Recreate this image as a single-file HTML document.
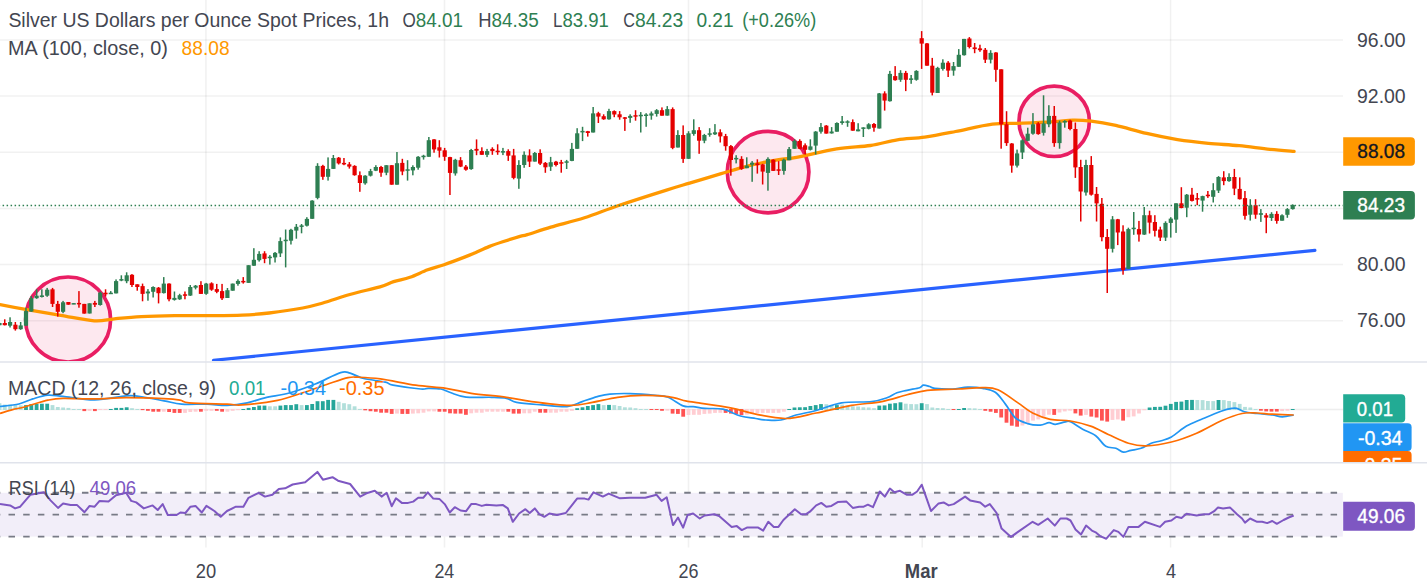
<!DOCTYPE html>
<html><head><meta charset="utf-8"><title>Silver chart</title>
<style>
html,body{margin:0;padding:0;background:#fff;width:1427px;height:587px;overflow:hidden}
svg{display:block}
text{font-family:"Liberation Sans",sans-serif}
</style></head><body>
<svg width="1427" height="587" viewBox="0 0 1427 587">
<defs>
<clipPath id="cmain"><rect x="0" y="0" width="1343" height="361"/></clipPath>
<clipPath id="cmacd"><rect x="0" y="362.5" width="1427" height="99.5"/></clipPath>
<clipPath id="crsi"><rect x="0" y="463.5" width="1343" height="84"/></clipPath>
</defs>
<rect width="1427" height="587" fill="#fff"/>

<line x1="205.9" y1="0" x2="205.9" y2="547.5" stroke="rgba(40,40,40,0.065)" stroke-width="1.5"/>
<line x1="444.5" y1="0" x2="444.5" y2="547.5" stroke="rgba(40,40,40,0.065)" stroke-width="1.5"/>
<line x1="688.5" y1="0" x2="688.5" y2="547.5" stroke="rgba(40,40,40,0.065)" stroke-width="1.5"/>
<line x1="922.2" y1="0" x2="922.2" y2="547.5" stroke="rgba(40,40,40,0.065)" stroke-width="1.5"/>
<line x1="1170.6" y1="0" x2="1170.6" y2="547.5" stroke="rgba(40,40,40,0.065)" stroke-width="1.5"/>
<line x1="0" y1="39.9" x2="1343" y2="39.9" stroke="rgba(40,40,40,0.065)" stroke-width="1.5"/>
<line x1="0" y1="96.1" x2="1343" y2="96.1" stroke="rgba(40,40,40,0.065)" stroke-width="1.5"/>
<line x1="0" y1="152.2" x2="1343" y2="152.2" stroke="rgba(40,40,40,0.065)" stroke-width="1.5"/>
<line x1="0" y1="208.4" x2="1343" y2="208.4" stroke="rgba(40,40,40,0.065)" stroke-width="1.5"/>
<line x1="0" y1="264.5" x2="1343" y2="264.5" stroke="rgba(40,40,40,0.065)" stroke-width="1.5"/>
<line x1="0" y1="320.7" x2="1343" y2="320.7" stroke="rgba(40,40,40,0.065)" stroke-width="1.5"/>
<line x1="0" y1="409.5" x2="1343" y2="409.5" stroke="rgba(40,40,40,0.08)" stroke-width="1.5"/>
<line x1="0" y1="514.6" x2="1343" y2="514.6" stroke="rgba(40,40,40,0.065)" stroke-width="1.5"/>
<line x1="0" y1="362.05" x2="1427" y2="362.05" stroke="#e0e3eb" stroke-width="1.6"/>
<line x1="0" y1="462.8" x2="1427" y2="462.8" stroke="#e0e3eb" stroke-width="1.6"/>
<g clip-path="url(#cmain)">
<circle cx="68.1" cy="319.5" r="42.5" fill="rgba(233,30,99,0.1)" stroke="#e91e63" stroke-width="3.7"/>
<circle cx="768.1" cy="172.1" r="40.8" fill="rgba(233,30,99,0.1)" stroke="#e91e63" stroke-width="3.7"/>
<circle cx="1054.2" cy="121.3" r="35.2" fill="rgba(233,30,99,0.1)" stroke="#e91e63" stroke-width="3.7"/>
<path d="M0 304.6 C4.5 305.5 16.8 307.9 26.9 309.7 C37 311.5 49.3 313.5 60.5 315.4 C71.7 317.2 85.2 320.2 94.2 320.8 C103.2 321.4 106.6 319.5 114.4 318.8 C122.2 318.1 131.2 317.2 141.3 316.7 C151.4 316.2 163.7 315.9 174.9 315.7 C186.1 315.5 197.3 315.8 208.5 315.7 C219.7 315.6 232.1 315.6 242.2 315.1 C252.3 314.7 259 314.2 269.1 313 C279.2 311.8 293.7 309.7 302.7 308 C311.7 306.3 315 305.2 322.9 303 C330.8 300.8 340.3 297.2 349.8 294.5 C359.3 291.8 372.7 288.9 380 286.8 C387.3 284.7 388.6 283.2 393.6 281.6 C398.6 280 404.3 279.3 410 277.3 C415.7 275.3 422 271.9 427.7 269.8 C433.4 267.7 438 266.8 444.1 264.7 C450.2 262.6 459.3 259.1 464.5 257.1 C469.7 255.1 471.3 254.4 475.4 252.7 C479.5 250.9 484.4 248.4 489 246.6 C493.6 244.8 497.5 243.5 502.7 241.8 C507.9 240.1 515.9 237.6 520 236.4 C524.1 235.2 522.2 236.1 527.3 234.6 C532.4 233.1 541.3 230 550.8 227.2 C560.3 224.4 573.2 221.4 584.5 217.8 C595.8 214.2 605 210.1 618.7 205.5 C632.4 200.9 654.7 193.8 666.5 190.1 C678.3 186.4 680.6 185.8 689.6 183.1 C698.6 180.4 710.8 176.7 720.4 173.9 C730 171.1 738.3 168.4 747.3 166.1 C756.3 163.8 766.3 161.8 774.5 160.3 C782.7 158.8 786 159.2 796.4 157.3 C806.8 155.4 824.4 150.9 836.7 148.9 C849 146.9 860.3 147 870.4 145.5 C880.5 144 888.2 141.2 897.3 139.8 C906.3 138.4 915 138.5 924.7 137.1 C934.4 135.7 944.2 133.7 955.5 131.5 C966.8 129.3 981.2 125.5 992.5 124.1 C1003.8 122.7 1013 123.6 1023.3 123.2 C1033.6 122.8 1046 122.2 1054.2 121.7 C1062.4 121.2 1066.5 120.2 1072.7 120.1 C1078.9 120 1084 120.2 1091.2 121.1 C1098.4 122 1106.5 123.4 1115.8 125.4 C1125 127.5 1136.4 131 1146.7 133.4 C1157 135.8 1167.2 137.9 1177.5 139.6 C1187.8 141.2 1198.1 142.3 1208.4 143.3 C1218.7 144.3 1228.9 144.7 1239.2 145.7 C1249.5 146.7 1260.8 148.5 1270 149.4 C1279.2 150.3 1290.1 151 1294.1 151.3" fill="none" stroke="#ff9800" stroke-width="3.3" stroke-linejoin="round" stroke-linecap="round"/>
<line x1="213.5" y1="360.3" x2="1314.9" y2="250.3" stroke="#2962ff" stroke-width="3.2" stroke-linecap="round"/>
<rect x="-1.2" y="322.7" width="1.5" height="2.7" fill="#2e7f52"/>
<rect x="-2.6" y="323" width="4.2" height="2.2" fill="#2e7f52"/>
<rect x="4" y="319.3" width="1.5" height="6.1" fill="#e50000"/>
<rect x="2.7" y="323" width="4.2" height="2.2" fill="#e50000"/>
<rect x="9.3" y="317.3" width="1.5" height="10.2" fill="#2e7f52"/>
<rect x="8" y="322" width="4.2" height="3.7" fill="#2e7f52"/>
<rect x="14.6" y="322" width="1.5" height="8.6" fill="#e50000"/>
<rect x="13.3" y="324.7" width="4.2" height="4.5" fill="#e50000"/>
<rect x="19.9" y="322" width="1.5" height="7.8" fill="#2e7f52"/>
<rect x="18.6" y="325.4" width="4.2" height="3.8" fill="#2e7f52"/>
<rect x="25.2" y="307.7" width="1.5" height="18" fill="#2e7f52"/>
<rect x="23.9" y="311.1" width="4.2" height="14.6" fill="#2e7f52"/>
<rect x="30.5" y="296.1" width="1.5" height="15.7" fill="#2e7f52"/>
<rect x="29.2" y="298.2" width="4.2" height="13.4" fill="#2e7f52"/>
<rect x="35.9" y="289.3" width="1.5" height="9.5" fill="#2e7f52"/>
<rect x="34.5" y="295.7" width="4.2" height="2.5" fill="#2e7f52"/>
<rect x="41.1" y="289.3" width="1.5" height="8.2" fill="#2e7f52"/>
<rect x="39.8" y="295.4" width="4.2" height="1.6" fill="#2e7f52"/>
<rect x="46.4" y="287.9" width="1.5" height="8.9" fill="#2e7f52"/>
<rect x="45.1" y="289.7" width="4.2" height="6" fill="#2e7f52"/>
<rect x="51.8" y="287.9" width="1.5" height="19.1" fill="#e50000"/>
<rect x="50.4" y="289.3" width="4.2" height="14.6" fill="#e50000"/>
<rect x="57" y="300.9" width="1.5" height="15.7" fill="#e50000"/>
<rect x="55.7" y="303.9" width="4.2" height="7.9" fill="#e50000"/>
<rect x="62.3" y="300.9" width="1.5" height="12.3" fill="#2e7f52"/>
<rect x="61" y="302.3" width="4.2" height="9.5" fill="#2e7f52"/>
<rect x="67.6" y="302" width="1.5" height="2.7" fill="#e50000"/>
<rect x="66.3" y="302" width="4.2" height="2.7" fill="#e50000"/>
<rect x="73" y="303.1" width="1.5" height="1" fill="#2e7f52"/>
<rect x="71.6" y="303.1" width="4.2" height="1.5" fill="#2e7f52"/>
<rect x="78.2" y="291.1" width="1.5" height="16.6" fill="#e50000"/>
<rect x="76.9" y="302.9" width="4.2" height="1.5" fill="#e50000"/>
<rect x="83.5" y="303.9" width="1.5" height="9.7" fill="#e50000"/>
<rect x="82.2" y="303.9" width="4.2" height="9.7" fill="#e50000"/>
<rect x="88.8" y="303.3" width="1.5" height="10.2" fill="#2e7f52"/>
<rect x="87.5" y="303.3" width="4.2" height="10.2" fill="#2e7f52"/>
<rect x="94.1" y="300.9" width="1.5" height="6.1" fill="#e50000"/>
<rect x="92.8" y="302.9" width="4.2" height="1.8" fill="#e50000"/>
<rect x="99.5" y="291.6" width="1.5" height="14" fill="#2e7f52"/>
<rect x="98.1" y="292.7" width="4.2" height="12.3" fill="#2e7f52"/>
<rect x="104.8" y="289.3" width="1.5" height="7.2" fill="#e50000"/>
<rect x="103.4" y="292.7" width="4.2" height="1.6" fill="#e50000"/>
<rect x="110" y="291.1" width="1.5" height="2.3" fill="#2e7f52"/>
<rect x="108.7" y="292.7" width="4.2" height="1.5" fill="#2e7f52"/>
<rect x="115.3" y="279.4" width="1.5" height="14" fill="#2e7f52"/>
<rect x="114" y="281.1" width="4.2" height="12.3" fill="#2e7f52"/>
<rect x="120.6" y="275.3" width="1.5" height="5.9" fill="#2e7f52"/>
<rect x="119.3" y="279.1" width="4.2" height="1.5" fill="#2e7f52"/>
<rect x="125.9" y="272.3" width="1.5" height="10.9" fill="#2e7f52"/>
<rect x="124.6" y="275.3" width="4.2" height="5.9" fill="#2e7f52"/>
<rect x="131.2" y="274.1" width="1.5" height="12.9" fill="#e50000"/>
<rect x="129.9" y="274.8" width="4.2" height="10.2" fill="#e50000"/>
<rect x="136.5" y="284.3" width="1.5" height="6.4" fill="#e50000"/>
<rect x="135.2" y="284.3" width="4.2" height="2.7" fill="#e50000"/>
<rect x="141.8" y="283.6" width="1.5" height="17.7" fill="#e50000"/>
<rect x="140.5" y="286.1" width="4.2" height="7.8" fill="#e50000"/>
<rect x="147.2" y="289.1" width="1.5" height="11.6" fill="#2e7f52"/>
<rect x="145.8" y="291.5" width="4.2" height="1.9" fill="#2e7f52"/>
<rect x="152.4" y="286.3" width="1.5" height="11.2" fill="#2e7f52"/>
<rect x="151.1" y="287" width="4.2" height="4.8" fill="#2e7f52"/>
<rect x="157.8" y="287" width="1.5" height="16.4" fill="#e50000"/>
<rect x="156.4" y="287.7" width="4.2" height="5.5" fill="#e50000"/>
<rect x="163" y="277.1" width="1.5" height="16.4" fill="#2e7f52"/>
<rect x="161.7" y="283.6" width="4.2" height="9.5" fill="#2e7f52"/>
<rect x="168.3" y="283.3" width="1.5" height="18" fill="#e50000"/>
<rect x="167" y="283.6" width="4.2" height="15.7" fill="#e50000"/>
<rect x="173.7" y="291.5" width="1.5" height="9.1" fill="#2e7f52"/>
<rect x="172.3" y="297.9" width="4.2" height="2" fill="#2e7f52"/>
<rect x="178.9" y="293.8" width="1.5" height="6.1" fill="#2e7f52"/>
<rect x="177.6" y="295.2" width="4.2" height="4.1" fill="#2e7f52"/>
<rect x="184.2" y="291.5" width="1.5" height="7.8" fill="#e50000"/>
<rect x="182.9" y="294.3" width="4.2" height="1.5" fill="#e50000"/>
<rect x="189.5" y="285" width="1.5" height="10.9" fill="#2e7f52"/>
<rect x="188.2" y="287" width="4.2" height="8.6" fill="#2e7f52"/>
<rect x="194.8" y="285" width="1.5" height="4.4" fill="#2e7f52"/>
<rect x="193.5" y="285.7" width="4.2" height="2" fill="#2e7f52"/>
<rect x="200.2" y="281.2" width="1.5" height="12.7" fill="#e50000"/>
<rect x="198.8" y="285" width="4.2" height="8.9" fill="#e50000"/>
<rect x="205.4" y="282.9" width="1.5" height="11.9" fill="#2e7f52"/>
<rect x="204.1" y="283.6" width="4.2" height="10.2" fill="#2e7f52"/>
<rect x="210.8" y="282.3" width="1.5" height="8.5" fill="#e50000"/>
<rect x="209.4" y="283.3" width="4.2" height="6.4" fill="#e50000"/>
<rect x="216" y="283.9" width="1.5" height="9.3" fill="#e50000"/>
<rect x="214.7" y="289.1" width="4.2" height="2.7" fill="#e50000"/>
<rect x="221.3" y="283.9" width="1.5" height="16.1" fill="#e50000"/>
<rect x="220" y="291.1" width="4.2" height="7.2" fill="#e50000"/>
<rect x="226.7" y="288" width="1.5" height="10" fill="#2e7f52"/>
<rect x="225.3" y="290.2" width="4.2" height="7.8" fill="#2e7f52"/>
<rect x="231.9" y="283.6" width="1.5" height="7.1" fill="#2e7f52"/>
<rect x="230.6" y="283.6" width="4.2" height="7.1" fill="#2e7f52"/>
<rect x="237.2" y="279.3" width="1.5" height="6.4" fill="#2e7f52"/>
<rect x="235.9" y="280.9" width="4.2" height="3" fill="#2e7f52"/>
<rect x="242.5" y="277.1" width="1.5" height="6.5" fill="#e50000"/>
<rect x="241.2" y="280.9" width="4.2" height="1.5" fill="#e50000"/>
<rect x="247.8" y="265.2" width="1.5" height="17.7" fill="#2e7f52"/>
<rect x="246.5" y="265.2" width="4.2" height="17.7" fill="#2e7f52"/>
<rect x="253.1" y="248.2" width="1.5" height="17.7" fill="#2e7f52"/>
<rect x="251.8" y="259.8" width="4.2" height="5.9" fill="#2e7f52"/>
<rect x="258.4" y="251.2" width="1.5" height="10.4" fill="#2e7f52"/>
<rect x="257.1" y="253.9" width="4.2" height="6.3" fill="#2e7f52"/>
<rect x="263.8" y="251.2" width="1.5" height="12" fill="#e50000"/>
<rect x="262.4" y="253.4" width="4.2" height="5.5" fill="#e50000"/>
<rect x="269.1" y="255.1" width="1.5" height="9.5" fill="#2e7f52"/>
<rect x="267.7" y="256.7" width="4.2" height="1.5" fill="#2e7f52"/>
<rect x="274.3" y="252" width="1.5" height="10.5" fill="#2e7f52"/>
<rect x="273" y="252.9" width="4.2" height="4.5" fill="#2e7f52"/>
<rect x="279.6" y="237.4" width="1.5" height="19.6" fill="#2e7f52"/>
<rect x="278.3" y="241.1" width="4.2" height="12.3" fill="#2e7f52"/>
<rect x="284.9" y="229.5" width="1.5" height="37.9" fill="#2e7f52"/>
<rect x="283.6" y="239.7" width="4.2" height="1.5" fill="#2e7f52"/>
<rect x="290.2" y="228.8" width="1.5" height="15.7" fill="#2e7f52"/>
<rect x="288.9" y="229.8" width="4.2" height="10.9" fill="#2e7f52"/>
<rect x="295.6" y="224" width="1.5" height="14.7" fill="#2e7f52"/>
<rect x="294.2" y="226.8" width="4.2" height="3.8" fill="#2e7f52"/>
<rect x="300.8" y="224" width="1.5" height="9.3" fill="#2e7f52"/>
<rect x="299.5" y="225.4" width="4.2" height="1.5" fill="#2e7f52"/>
<rect x="306.1" y="217.2" width="1.5" height="9.3" fill="#2e7f52"/>
<rect x="304.8" y="218.9" width="4.2" height="6.8" fill="#2e7f52"/>
<rect x="311.4" y="200.2" width="1.5" height="18.7" fill="#2e7f52"/>
<rect x="310.1" y="200.6" width="4.2" height="18.2" fill="#2e7f52"/>
<rect x="316.8" y="163.2" width="1.5" height="36.1" fill="#2e7f52"/>
<rect x="315.4" y="165.9" width="4.2" height="32" fill="#2e7f52"/>
<rect x="322.1" y="164.8" width="1.5" height="15" fill="#e50000"/>
<rect x="320.7" y="165.9" width="4.2" height="10.9" fill="#e50000"/>
<rect x="327.3" y="157.4" width="1.5" height="23.2" fill="#2e7f52"/>
<rect x="326" y="168.9" width="4.2" height="7.9" fill="#2e7f52"/>
<rect x="332.6" y="155" width="1.5" height="13.9" fill="#2e7f52"/>
<rect x="331.3" y="158" width="4.2" height="10.9" fill="#2e7f52"/>
<rect x="337.9" y="157" width="1.5" height="7.5" fill="#e50000"/>
<rect x="336.6" y="157.7" width="4.2" height="5.7" fill="#e50000"/>
<rect x="343.2" y="158" width="1.5" height="7.2" fill="#e50000"/>
<rect x="341.9" y="162.9" width="4.2" height="1.5" fill="#e50000"/>
<rect x="348.6" y="162.1" width="1.5" height="6.5" fill="#e50000"/>
<rect x="347.2" y="164.3" width="4.2" height="2.3" fill="#e50000"/>
<rect x="353.8" y="165.2" width="1.5" height="10.5" fill="#e50000"/>
<rect x="352.5" y="165.9" width="4.2" height="9.3" fill="#e50000"/>
<rect x="359.1" y="171.4" width="1.5" height="20.4" fill="#e50000"/>
<rect x="357.8" y="175.2" width="4.2" height="7.8" fill="#e50000"/>
<rect x="364.4" y="175.2" width="1.5" height="9.5" fill="#2e7f52"/>
<rect x="363.1" y="175.7" width="4.2" height="7.6" fill="#2e7f52"/>
<rect x="369.8" y="168.9" width="1.5" height="7.6" fill="#2e7f52"/>
<rect x="368.4" y="171.1" width="4.2" height="4.6" fill="#2e7f52"/>
<rect x="375.1" y="165.2" width="1.5" height="5.9" fill="#2e7f52"/>
<rect x="373.7" y="167" width="4.2" height="3.7" fill="#2e7f52"/>
<rect x="380.3" y="165.9" width="1.5" height="10.9" fill="#e50000"/>
<rect x="379" y="167" width="4.2" height="5.7" fill="#e50000"/>
<rect x="385.6" y="165.2" width="1.5" height="10" fill="#2e7f52"/>
<rect x="384.3" y="165.2" width="4.2" height="7.5" fill="#2e7f52"/>
<rect x="390.9" y="165.2" width="1.5" height="19.5" fill="#e50000"/>
<rect x="389.6" y="165.2" width="4.2" height="19.5" fill="#e50000"/>
<rect x="396.2" y="152" width="1.5" height="32.7" fill="#2e7f52"/>
<rect x="394.9" y="163.2" width="4.2" height="21.5" fill="#2e7f52"/>
<rect x="401.6" y="158.8" width="1.5" height="16.4" fill="#e50000"/>
<rect x="400.2" y="162.9" width="4.2" height="8.6" fill="#e50000"/>
<rect x="406.8" y="160.2" width="1.5" height="20.4" fill="#2e7f52"/>
<rect x="405.5" y="169.3" width="4.2" height="1.5" fill="#2e7f52"/>
<rect x="412.1" y="165.3" width="1.5" height="10" fill="#2e7f52"/>
<rect x="410.8" y="167" width="4.2" height="3.4" fill="#2e7f52"/>
<rect x="417.4" y="156.1" width="1.5" height="13.6" fill="#2e7f52"/>
<rect x="416.1" y="156.8" width="4.2" height="10.9" fill="#2e7f52"/>
<rect x="422.8" y="154.8" width="1.5" height="4.8" fill="#2e7f52"/>
<rect x="421.4" y="155.7" width="4.2" height="1.5" fill="#2e7f52"/>
<rect x="428.1" y="137" width="1.5" height="19.8" fill="#2e7f52"/>
<rect x="426.7" y="140.2" width="4.2" height="16.6" fill="#2e7f52"/>
<rect x="433.3" y="139.1" width="1.5" height="13.6" fill="#e50000"/>
<rect x="432" y="139.4" width="4.2" height="10" fill="#e50000"/>
<rect x="438.6" y="140.2" width="1.5" height="17.3" fill="#e50000"/>
<rect x="437.3" y="147.3" width="4.2" height="3.4" fill="#e50000"/>
<rect x="443.9" y="147.9" width="1.5" height="12.9" fill="#e50000"/>
<rect x="442.6" y="150.3" width="4.2" height="6.5" fill="#e50000"/>
<rect x="449.2" y="156.8" width="1.5" height="38.2" fill="#e50000"/>
<rect x="447.9" y="157.1" width="4.2" height="15.8" fill="#e50000"/>
<rect x="454.6" y="158.8" width="1.5" height="16.8" fill="#2e7f52"/>
<rect x="453.2" y="159.8" width="4.2" height="13.6" fill="#2e7f52"/>
<rect x="459.8" y="157.1" width="1.5" height="10" fill="#e50000"/>
<rect x="458.5" y="160.2" width="4.2" height="6.4" fill="#e50000"/>
<rect x="465.1" y="165" width="1.5" height="5.7" fill="#e50000"/>
<rect x="463.8" y="166.6" width="4.2" height="3.1" fill="#e50000"/>
<rect x="470.4" y="148.9" width="1.5" height="20.9" fill="#2e7f52"/>
<rect x="469.1" y="150" width="4.2" height="19.1" fill="#2e7f52"/>
<rect x="475.8" y="139.4" width="1.5" height="15.8" fill="#e50000"/>
<rect x="474.4" y="148.9" width="4.2" height="1.8" fill="#e50000"/>
<rect x="481.1" y="147.3" width="1.5" height="7.5" fill="#e50000"/>
<rect x="479.7" y="151.1" width="4.2" height="3.7" fill="#e50000"/>
<rect x="486.3" y="148.9" width="1.5" height="8.2" fill="#2e7f52"/>
<rect x="485" y="151.1" width="4.2" height="3.7" fill="#2e7f52"/>
<rect x="491.6" y="147.3" width="1.5" height="7.5" fill="#e50000"/>
<rect x="490.3" y="148.9" width="4.2" height="2.2" fill="#e50000"/>
<rect x="496.9" y="144.3" width="1.5" height="10.5" fill="#e50000"/>
<rect x="495.6" y="150.7" width="4.2" height="1.5" fill="#e50000"/>
<rect x="502.2" y="147.9" width="1.5" height="7.2" fill="#2e7f52"/>
<rect x="500.9" y="151.1" width="4.2" height="1.5" fill="#2e7f52"/>
<rect x="507.5" y="149.3" width="1.5" height="11.6" fill="#e50000"/>
<rect x="506.2" y="151.1" width="4.2" height="4.6" fill="#e50000"/>
<rect x="512.9" y="148.9" width="1.5" height="30.4" fill="#e50000"/>
<rect x="511.5" y="155.4" width="4.2" height="22.5" fill="#e50000"/>
<rect x="518.1" y="160.2" width="1.5" height="28.6" fill="#2e7f52"/>
<rect x="516.8" y="165" width="4.2" height="13.6" fill="#2e7f52"/>
<rect x="523.4" y="151.4" width="1.5" height="16.4" fill="#2e7f52"/>
<rect x="522.1" y="154.8" width="4.2" height="10.2" fill="#2e7f52"/>
<rect x="528.8" y="149.3" width="1.5" height="17.7" fill="#e50000"/>
<rect x="527.4" y="155.4" width="4.2" height="6.2" fill="#e50000"/>
<rect x="534" y="152" width="1.5" height="9.5" fill="#2e7f52"/>
<rect x="532.7" y="153" width="4.2" height="8.6" fill="#2e7f52"/>
<rect x="539.4" y="149.3" width="1.5" height="15.7" fill="#e50000"/>
<rect x="538" y="153" width="4.2" height="10.6" fill="#e50000"/>
<rect x="544.6" y="162" width="1.5" height="10.8" fill="#e50000"/>
<rect x="543.3" y="162.9" width="4.2" height="4.4" fill="#e50000"/>
<rect x="549.9" y="156.9" width="1.5" height="14" fill="#2e7f52"/>
<rect x="548.6" y="162.2" width="4.2" height="4.5" fill="#2e7f52"/>
<rect x="555.2" y="160.9" width="1.5" height="5.5" fill="#e50000"/>
<rect x="553.9" y="161.7" width="4.2" height="3.3" fill="#e50000"/>
<rect x="560.5" y="159.9" width="1.5" height="12.8" fill="#e50000"/>
<rect x="559.2" y="162.2" width="4.2" height="1.5" fill="#e50000"/>
<rect x="565.9" y="159.9" width="1.5" height="9.1" fill="#2e7f52"/>
<rect x="564.5" y="161.3" width="4.2" height="1.5" fill="#2e7f52"/>
<rect x="571.1" y="142.9" width="1.5" height="18.3" fill="#2e7f52"/>
<rect x="569.8" y="148.9" width="4.2" height="12" fill="#2e7f52"/>
<rect x="576.4" y="128.2" width="1.5" height="20.7" fill="#2e7f52"/>
<rect x="575.1" y="133.3" width="4.2" height="15.5" fill="#2e7f52"/>
<rect x="581.8" y="126.8" width="1.5" height="14.3" fill="#2e7f52"/>
<rect x="580.4" y="130.9" width="4.2" height="1.5" fill="#2e7f52"/>
<rect x="587" y="130.9" width="1.5" height="5.7" fill="#e50000"/>
<rect x="585.7" y="131.2" width="4.2" height="1.8" fill="#e50000"/>
<rect x="592.4" y="107" width="1.5" height="25.5" fill="#2e7f52"/>
<rect x="591" y="113.4" width="4.2" height="19.1" fill="#2e7f52"/>
<rect x="597.6" y="111.8" width="1.5" height="11.2" fill="#e50000"/>
<rect x="596.3" y="113.2" width="4.2" height="3.4" fill="#e50000"/>
<rect x="602.9" y="114.3" width="1.5" height="5.5" fill="#e50000"/>
<rect x="601.6" y="116.2" width="4.2" height="3.1" fill="#e50000"/>
<rect x="608.2" y="108.8" width="1.5" height="10.9" fill="#2e7f52"/>
<rect x="606.9" y="111.1" width="4.2" height="8.2" fill="#2e7f52"/>
<rect x="613.5" y="110.4" width="1.5" height="6.8" fill="#e50000"/>
<rect x="612.2" y="111.1" width="4.2" height="3.4" fill="#e50000"/>
<rect x="618.9" y="111.1" width="1.5" height="8.6" fill="#e50000"/>
<rect x="617.5" y="114.3" width="4.2" height="3" fill="#e50000"/>
<rect x="624.1" y="117" width="1.5" height="13.9" fill="#e50000"/>
<rect x="622.8" y="117.3" width="4.2" height="1.5" fill="#e50000"/>
<rect x="629.4" y="114.3" width="1.5" height="8.5" fill="#2e7f52"/>
<rect x="628.1" y="115.9" width="4.2" height="2" fill="#2e7f52"/>
<rect x="634.8" y="110.2" width="1.5" height="10.5" fill="#e50000"/>
<rect x="633.4" y="115.2" width="4.2" height="1.5" fill="#e50000"/>
<rect x="640" y="112.1" width="1.5" height="20.4" fill="#2e7f52"/>
<rect x="638.7" y="114.8" width="4.2" height="1.5" fill="#2e7f52"/>
<rect x="645.4" y="113.2" width="1.5" height="13.6" fill="#2e7f52"/>
<rect x="644" y="114.5" width="4.2" height="1.5" fill="#2e7f52"/>
<rect x="650.6" y="111.5" width="1.5" height="8.2" fill="#2e7f52"/>
<rect x="649.3" y="113.4" width="4.2" height="2.2" fill="#2e7f52"/>
<rect x="655.9" y="109.1" width="1.5" height="7.5" fill="#2e7f52"/>
<rect x="654.6" y="110.2" width="4.2" height="3.7" fill="#2e7f52"/>
<rect x="661.2" y="107.4" width="1.5" height="8.2" fill="#e50000"/>
<rect x="659.9" y="110.2" width="4.2" height="5.5" fill="#e50000"/>
<rect x="666.5" y="106.1" width="1.5" height="9.5" fill="#2e7f52"/>
<rect x="665.2" y="109.1" width="4.2" height="6.5" fill="#2e7f52"/>
<rect x="671.9" y="107.4" width="1.5" height="41.8" fill="#e50000"/>
<rect x="670.5" y="109.1" width="4.2" height="38.8" fill="#e50000"/>
<rect x="677.1" y="130.2" width="1.5" height="17.3" fill="#2e7f52"/>
<rect x="675.8" y="135" width="4.2" height="12.5" fill="#2e7f52"/>
<rect x="682.4" y="125.4" width="1.5" height="37.5" fill="#e50000"/>
<rect x="681.1" y="135" width="4.2" height="23.9" fill="#e50000"/>
<rect x="687.8" y="131.2" width="1.5" height="27.7" fill="#2e7f52"/>
<rect x="686.4" y="133.3" width="4.2" height="25.5" fill="#2e7f52"/>
<rect x="693" y="119.3" width="1.5" height="16.4" fill="#2e7f52"/>
<rect x="691.7" y="130.2" width="4.2" height="3.7" fill="#2e7f52"/>
<rect x="698.4" y="127.1" width="1.5" height="26.7" fill="#e50000"/>
<rect x="697" y="130.2" width="4.2" height="10.5" fill="#e50000"/>
<rect x="703.6" y="133.9" width="1.5" height="9.3" fill="#2e7f52"/>
<rect x="702.3" y="135" width="4.2" height="5.7" fill="#2e7f52"/>
<rect x="708.9" y="128.2" width="1.5" height="8.5" fill="#2e7f52"/>
<rect x="707.6" y="133.3" width="4.2" height="1.5" fill="#2e7f52"/>
<rect x="714.2" y="124.1" width="1.5" height="10.9" fill="#2e7f52"/>
<rect x="712.9" y="132.3" width="4.2" height="2" fill="#2e7f52"/>
<rect x="719.5" y="129.3" width="1.5" height="13.2" fill="#e50000"/>
<rect x="718.2" y="132.3" width="4.2" height="4.1" fill="#e50000"/>
<rect x="724.9" y="133.9" width="1.5" height="16.8" fill="#e50000"/>
<rect x="723.5" y="136.1" width="4.2" height="10.1" fill="#e50000"/>
<rect x="730.1" y="145" width="1.5" height="30.7" fill="#e50000"/>
<rect x="728.8" y="146.1" width="4.2" height="13.9" fill="#e50000"/>
<rect x="735.4" y="155.2" width="1.5" height="8.2" fill="#2e7f52"/>
<rect x="734.1" y="157.9" width="4.2" height="1.5" fill="#2e7f52"/>
<rect x="740.8" y="156.2" width="1.5" height="13.6" fill="#e50000"/>
<rect x="739.4" y="158.9" width="4.2" height="10" fill="#e50000"/>
<rect x="746" y="157.3" width="1.5" height="10.9" fill="#2e7f52"/>
<rect x="744.7" y="165.7" width="4.2" height="2.5" fill="#2e7f52"/>
<rect x="751.4" y="161.1" width="1.5" height="20.7" fill="#2e7f52"/>
<rect x="750" y="162.7" width="4.2" height="2" fill="#2e7f52"/>
<rect x="756.6" y="159.3" width="1.5" height="14.3" fill="#e50000"/>
<rect x="755.3" y="163.4" width="4.2" height="1.8" fill="#e50000"/>
<rect x="761.9" y="163.8" width="1.5" height="20.7" fill="#e50000"/>
<rect x="760.6" y="164.4" width="4.2" height="7.2" fill="#e50000"/>
<rect x="767.2" y="157.3" width="1.5" height="33.4" fill="#2e7f52"/>
<rect x="765.9" y="158.9" width="4.2" height="14" fill="#2e7f52"/>
<rect x="772.5" y="159.3" width="1.5" height="11.6" fill="#e50000"/>
<rect x="771.2" y="159.7" width="4.2" height="11.2" fill="#e50000"/>
<rect x="777.9" y="161.1" width="1.5" height="13.9" fill="#e50000"/>
<rect x="776.5" y="169.3" width="4.2" height="1.5" fill="#e50000"/>
<rect x="783.1" y="158.6" width="1.5" height="16.1" fill="#2e7f52"/>
<rect x="781.8" y="159.7" width="4.2" height="11.2" fill="#2e7f52"/>
<rect x="788.4" y="147" width="1.5" height="13.2" fill="#2e7f52"/>
<rect x="787.1" y="149.1" width="4.2" height="11.2" fill="#2e7f52"/>
<rect x="793.8" y="139.3" width="1.5" height="9.5" fill="#2e7f52"/>
<rect x="792.4" y="140.9" width="4.2" height="7.9" fill="#2e7f52"/>
<rect x="799" y="139.3" width="1.5" height="9.8" fill="#e50000"/>
<rect x="797.7" y="140.9" width="4.2" height="7.9" fill="#e50000"/>
<rect x="804.4" y="143.4" width="1.5" height="11.2" fill="#e50000"/>
<rect x="803" y="145.3" width="4.2" height="4.5" fill="#e50000"/>
<rect x="809.6" y="139.3" width="1.5" height="11.2" fill="#2e7f52"/>
<rect x="808.3" y="146.4" width="4.2" height="3.4" fill="#2e7f52"/>
<rect x="814.9" y="131.1" width="1.5" height="23.4" fill="#2e7f52"/>
<rect x="813.6" y="131.6" width="4.2" height="14" fill="#2e7f52"/>
<rect x="820.2" y="123" width="1.5" height="10.6" fill="#2e7f52"/>
<rect x="818.9" y="127.1" width="4.2" height="4.6" fill="#2e7f52"/>
<rect x="825.5" y="125.1" width="1.5" height="8.5" fill="#e50000"/>
<rect x="824.2" y="125.6" width="4.2" height="8" fill="#e50000"/>
<rect x="830.9" y="127.1" width="1.5" height="6.5" fill="#2e7f52"/>
<rect x="829.5" y="131.5" width="4.2" height="1.9" fill="#2e7f52"/>
<rect x="836.1" y="122.3" width="1.5" height="9.4" fill="#2e7f52"/>
<rect x="834.8" y="123" width="4.2" height="8.7" fill="#2e7f52"/>
<rect x="841.4" y="116" width="1.5" height="8.7" fill="#2e7f52"/>
<rect x="840.1" y="121.3" width="4.2" height="1.7" fill="#2e7f52"/>
<rect x="846.8" y="120.3" width="1.5" height="6.5" fill="#2e7f52"/>
<rect x="845.4" y="121.3" width="4.2" height="1.5" fill="#2e7f52"/>
<rect x="852" y="119.4" width="1.5" height="11.3" fill="#e50000"/>
<rect x="850.7" y="122.1" width="4.2" height="8.6" fill="#e50000"/>
<rect x="857.4" y="123.2" width="1.5" height="8.1" fill="#2e7f52"/>
<rect x="856" y="129.4" width="4.2" height="1.9" fill="#2e7f52"/>
<rect x="862.6" y="127.3" width="1.5" height="9.7" fill="#2e7f52"/>
<rect x="861.3" y="127.4" width="4.2" height="1.5" fill="#2e7f52"/>
<rect x="867.9" y="123.2" width="1.5" height="6.2" fill="#2e7f52"/>
<rect x="866.6" y="124.3" width="4.2" height="4.5" fill="#2e7f52"/>
<rect x="873.2" y="123" width="1.5" height="8.7" fill="#e50000"/>
<rect x="871.9" y="124" width="4.2" height="3.7" fill="#e50000"/>
<rect x="878.5" y="93" width="1.5" height="35.5" fill="#2e7f52"/>
<rect x="877.2" y="93.4" width="4.2" height="35.1" fill="#2e7f52"/>
<rect x="883.9" y="91.3" width="1.5" height="19.3" fill="#e50000"/>
<rect x="882.5" y="93.4" width="4.2" height="7.2" fill="#e50000"/>
<rect x="889.1" y="70.9" width="1.5" height="30.7" fill="#2e7f52"/>
<rect x="887.8" y="73.9" width="4.2" height="27.3" fill="#2e7f52"/>
<rect x="894.4" y="66.1" width="1.5" height="14.6" fill="#e50000"/>
<rect x="893.1" y="76.1" width="4.2" height="4.1" fill="#e50000"/>
<rect x="899.8" y="70.2" width="1.5" height="11.6" fill="#2e7f52"/>
<rect x="898.4" y="72.9" width="4.2" height="6.9" fill="#2e7f52"/>
<rect x="905" y="70.9" width="1.5" height="20.2" fill="#e50000"/>
<rect x="903.7" y="72.9" width="4.2" height="6.9" fill="#e50000"/>
<rect x="910.4" y="75" width="1.5" height="8.8" fill="#2e7f52"/>
<rect x="909" y="78.4" width="4.2" height="1.5" fill="#2e7f52"/>
<rect x="915.6" y="70.2" width="1.5" height="10.5" fill="#2e7f52"/>
<rect x="914.3" y="70.9" width="4.2" height="8.9" fill="#2e7f52"/>
<rect x="920.9" y="31.1" width="1.5" height="37.8" fill="#e50000"/>
<rect x="919.6" y="38.2" width="4.2" height="5.4" fill="#e50000"/>
<rect x="926.2" y="43" width="1.5" height="22.7" fill="#e50000"/>
<rect x="924.9" y="43.4" width="4.2" height="22.3" fill="#e50000"/>
<rect x="931.5" y="57.9" width="1.5" height="37.5" fill="#e50000"/>
<rect x="930.2" y="65.7" width="4.2" height="27" fill="#e50000"/>
<rect x="936.9" y="66.8" width="1.5" height="26.2" fill="#2e7f52"/>
<rect x="935.5" y="67.9" width="4.2" height="25.1" fill="#2e7f52"/>
<rect x="942.1" y="59.3" width="1.5" height="11.3" fill="#2e7f52"/>
<rect x="940.8" y="62.7" width="4.2" height="6.2" fill="#2e7f52"/>
<rect x="947.4" y="61.1" width="1.5" height="15.9" fill="#e50000"/>
<rect x="946.1" y="62.7" width="4.2" height="7.9" fill="#e50000"/>
<rect x="952.8" y="62" width="1.5" height="13.7" fill="#2e7f52"/>
<rect x="951.4" y="66.1" width="4.2" height="4.5" fill="#2e7f52"/>
<rect x="958" y="49.1" width="1.5" height="17.7" fill="#2e7f52"/>
<rect x="956.7" y="54.8" width="4.2" height="12" fill="#2e7f52"/>
<rect x="963.4" y="38.9" width="1.5" height="16.7" fill="#2e7f52"/>
<rect x="962" y="38.9" width="4.2" height="16.3" fill="#2e7f52"/>
<rect x="968.6" y="37.1" width="1.5" height="11.3" fill="#e50000"/>
<rect x="967.3" y="38.5" width="4.2" height="8.5" fill="#e50000"/>
<rect x="973.9" y="43" width="1.5" height="10.2" fill="#e50000"/>
<rect x="972.6" y="47.4" width="4.2" height="1.7" fill="#e50000"/>
<rect x="979.2" y="44.7" width="1.5" height="7.1" fill="#e50000"/>
<rect x="977.9" y="48.4" width="4.2" height="1.8" fill="#e50000"/>
<rect x="984.5" y="48" width="1.5" height="15" fill="#e50000"/>
<rect x="983.2" y="49.8" width="4.2" height="9.9" fill="#e50000"/>
<rect x="989.9" y="50.2" width="1.5" height="13.2" fill="#2e7f52"/>
<rect x="988.5" y="52.9" width="4.2" height="6.8" fill="#2e7f52"/>
<rect x="995.1" y="52.1" width="1.5" height="29.7" fill="#e50000"/>
<rect x="993.8" y="52.5" width="4.2" height="17.3" fill="#e50000"/>
<rect x="1000.4" y="69.3" width="1.5" height="79.4" fill="#e50000"/>
<rect x="999.1" y="69.3" width="4.2" height="55" fill="#e50000"/>
<rect x="1005.8" y="111.2" width="1.5" height="34.7" fill="#e50000"/>
<rect x="1004.4" y="124.3" width="4.2" height="18.8" fill="#e50000"/>
<rect x="1011" y="143.1" width="1.5" height="29.6" fill="#e50000"/>
<rect x="1009.7" y="143.5" width="4.2" height="22.1" fill="#e50000"/>
<rect x="1016.3" y="149.6" width="1.5" height="17.9" fill="#2e7f52"/>
<rect x="1015" y="153.4" width="4.2" height="12.2" fill="#2e7f52"/>
<rect x="1021.6" y="139.3" width="1.5" height="19.7" fill="#2e7f52"/>
<rect x="1020.3" y="140.3" width="4.2" height="12.2" fill="#2e7f52"/>
<rect x="1027" y="127.7" width="1.5" height="13.5" fill="#2e7f52"/>
<rect x="1025.6" y="133.7" width="4.2" height="7.1" fill="#2e7f52"/>
<rect x="1032.2" y="113.1" width="1.5" height="21.6" fill="#2e7f52"/>
<rect x="1030.9" y="124.3" width="4.2" height="9.4" fill="#2e7f52"/>
<rect x="1037.5" y="122.1" width="1.5" height="12.6" fill="#e50000"/>
<rect x="1036.2" y="123.4" width="4.2" height="10.7" fill="#e50000"/>
<rect x="1042.8" y="95.3" width="1.5" height="40.3" fill="#2e7f52"/>
<rect x="1041.5" y="123.4" width="4.2" height="9.4" fill="#2e7f52"/>
<rect x="1048.1" y="105.2" width="1.5" height="22" fill="#2e7f52"/>
<rect x="1046.8" y="115.9" width="4.2" height="8.4" fill="#2e7f52"/>
<rect x="1053.5" y="106" width="1.5" height="40.8" fill="#e50000"/>
<rect x="1052.1" y="115.9" width="4.2" height="27.2" fill="#e50000"/>
<rect x="1058.8" y="120.6" width="1.5" height="28.1" fill="#2e7f52"/>
<rect x="1057.4" y="122.5" width="4.2" height="20.6" fill="#2e7f52"/>
<rect x="1064" y="120.2" width="1.5" height="7.5" fill="#2e7f52"/>
<rect x="1062.7" y="121" width="4.2" height="1.5" fill="#2e7f52"/>
<rect x="1069.3" y="119.7" width="1.5" height="10.6" fill="#e50000"/>
<rect x="1068" y="120.6" width="4.2" height="8.4" fill="#e50000"/>
<rect x="1074.6" y="122.5" width="1.5" height="55.4" fill="#e50000"/>
<rect x="1073.3" y="129" width="4.2" height="38.4" fill="#e50000"/>
<rect x="1080" y="159.8" width="1.5" height="61.7" fill="#e50000"/>
<rect x="1078.6" y="167" width="4.2" height="24.5" fill="#e50000"/>
<rect x="1085.2" y="159.8" width="1.5" height="35.8" fill="#2e7f52"/>
<rect x="1083.9" y="165" width="4.2" height="27.5" fill="#2e7f52"/>
<rect x="1090.5" y="156.1" width="1.5" height="39.5" fill="#e50000"/>
<rect x="1089.2" y="165" width="4.2" height="29.7" fill="#e50000"/>
<rect x="1095.8" y="187" width="1.5" height="34.5" fill="#e50000"/>
<rect x="1094.5" y="193.9" width="4.2" height="9.5" fill="#e50000"/>
<rect x="1101.1" y="198" width="1.5" height="43.3" fill="#e50000"/>
<rect x="1099.8" y="203.8" width="4.2" height="33.4" fill="#e50000"/>
<rect x="1106.5" y="229.1" width="1.5" height="63.9" fill="#e50000"/>
<rect x="1105.1" y="237" width="4.2" height="11.8" fill="#e50000"/>
<rect x="1111.8" y="216.1" width="1.5" height="36.4" fill="#2e7f52"/>
<rect x="1110.4" y="219.3" width="4.2" height="29.5" fill="#2e7f52"/>
<rect x="1117" y="218.9" width="1.5" height="26.2" fill="#e50000"/>
<rect x="1115.7" y="219.3" width="4.2" height="13.2" fill="#e50000"/>
<rect x="1122.3" y="225.3" width="1.5" height="49.4" fill="#e50000"/>
<rect x="1121" y="231.5" width="4.2" height="38.4" fill="#e50000"/>
<rect x="1127.6" y="227.7" width="1.5" height="41.1" fill="#2e7f52"/>
<rect x="1126.3" y="229.1" width="4.2" height="39.7" fill="#2e7f52"/>
<rect x="1133" y="212" width="1.5" height="22.8" fill="#2e7f52"/>
<rect x="1131.6" y="227.7" width="4.2" height="1.5" fill="#2e7f52"/>
<rect x="1138.2" y="220.9" width="1.5" height="20.7" fill="#e50000"/>
<rect x="1136.9" y="229.1" width="4.2" height="5.4" fill="#e50000"/>
<rect x="1143.5" y="207" width="1.5" height="27.9" fill="#2e7f52"/>
<rect x="1142.2" y="215.2" width="4.2" height="19.4" fill="#2e7f52"/>
<rect x="1148.8" y="210.7" width="1.5" height="22.8" fill="#e50000"/>
<rect x="1147.5" y="215.2" width="4.2" height="7.4" fill="#e50000"/>
<rect x="1154.1" y="215.2" width="1.5" height="21.3" fill="#e50000"/>
<rect x="1152.8" y="222" width="4.2" height="8.8" fill="#e50000"/>
<rect x="1159.5" y="226.7" width="1.5" height="14.3" fill="#e50000"/>
<rect x="1158.1" y="229.5" width="4.2" height="8.1" fill="#e50000"/>
<rect x="1164.8" y="221.3" width="1.5" height="19.7" fill="#2e7f52"/>
<rect x="1163.4" y="222.9" width="4.2" height="14.7" fill="#2e7f52"/>
<rect x="1170" y="217.2" width="1.5" height="20.4" fill="#2e7f52"/>
<rect x="1168.7" y="218.6" width="4.2" height="4.3" fill="#2e7f52"/>
<rect x="1175.3" y="203.3" width="1.5" height="29.6" fill="#2e7f52"/>
<rect x="1174" y="203.3" width="4.2" height="16.3" fill="#2e7f52"/>
<rect x="1180.6" y="187.2" width="1.5" height="21.1" fill="#e50000"/>
<rect x="1179.3" y="203.3" width="4.2" height="4.7" fill="#e50000"/>
<rect x="1186" y="194" width="1.5" height="23.2" fill="#2e7f52"/>
<rect x="1184.6" y="194.7" width="4.2" height="13" fill="#2e7f52"/>
<rect x="1191.2" y="187.9" width="1.5" height="13.6" fill="#e50000"/>
<rect x="1189.9" y="194.7" width="4.2" height="6.2" fill="#e50000"/>
<rect x="1196.5" y="193" width="1.5" height="12.2" fill="#e50000"/>
<rect x="1195.2" y="198.1" width="4.2" height="1.5" fill="#e50000"/>
<rect x="1201.8" y="195.7" width="1.5" height="16" fill="#2e7f52"/>
<rect x="1200.5" y="196.1" width="4.2" height="4.5" fill="#2e7f52"/>
<rect x="1207.1" y="191" width="1.5" height="6.9" fill="#e50000"/>
<rect x="1205.8" y="194.7" width="4.2" height="1.5" fill="#e50000"/>
<rect x="1212.5" y="183.2" width="1.5" height="19.3" fill="#2e7f52"/>
<rect x="1211.1" y="190.2" width="4.2" height="6.6" fill="#2e7f52"/>
<rect x="1217.8" y="176.1" width="1.5" height="16.9" fill="#2e7f52"/>
<rect x="1216.4" y="177" width="4.2" height="13.6" fill="#2e7f52"/>
<rect x="1223" y="171.2" width="1.5" height="14" fill="#e50000"/>
<rect x="1221.7" y="177.4" width="4.2" height="3.7" fill="#e50000"/>
<rect x="1228.3" y="173.3" width="1.5" height="8.5" fill="#2e7f52"/>
<rect x="1227" y="177" width="4.2" height="4.1" fill="#2e7f52"/>
<rect x="1233.6" y="168.9" width="1.5" height="26.2" fill="#e50000"/>
<rect x="1232.3" y="177" width="4.2" height="11.6" fill="#e50000"/>
<rect x="1239" y="177.4" width="1.5" height="22.1" fill="#e50000"/>
<rect x="1237.6" y="188.9" width="4.2" height="10.3" fill="#e50000"/>
<rect x="1244.2" y="191" width="1.5" height="28.6" fill="#e50000"/>
<rect x="1242.9" y="198.1" width="4.2" height="17.7" fill="#e50000"/>
<rect x="1249.5" y="199.2" width="1.5" height="21.4" fill="#2e7f52"/>
<rect x="1248.2" y="205.6" width="4.2" height="9.1" fill="#2e7f52"/>
<rect x="1254.8" y="199.2" width="1.5" height="19.6" fill="#e50000"/>
<rect x="1253.5" y="205.2" width="4.2" height="9.5" fill="#e50000"/>
<rect x="1260.1" y="209.1" width="1.5" height="12.8" fill="#2e7f52"/>
<rect x="1258.8" y="213.2" width="4.2" height="1.6" fill="#2e7f52"/>
<rect x="1265.5" y="213.2" width="1.5" height="20" fill="#e50000"/>
<rect x="1264.1" y="215.3" width="4.2" height="2.3" fill="#e50000"/>
<rect x="1270.8" y="212.2" width="1.5" height="8.7" fill="#2e7f52"/>
<rect x="1269.4" y="213.9" width="4.2" height="4.1" fill="#2e7f52"/>
<rect x="1276" y="211.2" width="1.5" height="12.5" fill="#e50000"/>
<rect x="1274.7" y="213.9" width="4.2" height="7" fill="#e50000"/>
<rect x="1281.3" y="214.3" width="1.5" height="6.4" fill="#2e7f52"/>
<rect x="1280" y="215.3" width="4.2" height="5.4" fill="#2e7f52"/>
<rect x="1286.6" y="208.1" width="1.5" height="9.7" fill="#2e7f52"/>
<rect x="1285.3" y="209.1" width="4.2" height="5.7" fill="#2e7f52"/>
<rect x="1292" y="204.3" width="1.5" height="5.3" fill="#2e7f52"/>
<rect x="1290.6" y="205" width="4.2" height="4.1" fill="#2e7f52"/>
<line x1="0" y1="205.4" x2="1343" y2="205.4" stroke="#2e7f52" stroke-width="1.5" stroke-dasharray="1.5 2.5" stroke-dashoffset="-2.59"/>
</g>
<g clip-path="url(#cmacd)">
<rect x="-2.4" y="403.2" width="3.8" height="6.8" fill="#b2dfdb"/>
<rect x="2.9" y="404.6" width="3.8" height="5.4" fill="#b2dfdb"/>
<rect x="8.2" y="404.6" width="3.8" height="5.4" fill="#b2dfdb"/>
<rect x="13.5" y="405.1" width="3.8" height="4.9" fill="#b2dfdb"/>
<rect x="18.8" y="405.4" width="3.8" height="4.6" fill="#b2dfdb"/>
<rect x="24.1" y="405.1" width="3.8" height="4.9" fill="#26a69a"/>
<rect x="29.4" y="404.1" width="3.8" height="5.9" fill="#26a69a"/>
<rect x="34.7" y="403.9" width="3.8" height="6.1" fill="#26a69a"/>
<rect x="40" y="403.7" width="3.8" height="6.3" fill="#26a69a"/>
<rect x="45.3" y="403.7" width="3.8" height="6.3" fill="#26a69a"/>
<rect x="50.6" y="405.1" width="3.8" height="4.9" fill="#b2dfdb"/>
<rect x="55.9" y="407" width="3.8" height="3" fill="#b2dfdb"/>
<rect x="61.2" y="407.5" width="3.8" height="2.5" fill="#b2dfdb"/>
<rect x="66.5" y="407.9" width="3.8" height="2.1" fill="#b2dfdb"/>
<rect x="71.8" y="409" width="3.8" height="1" fill="#b2dfdb"/>
<rect x="77.1" y="409" width="3.8" height="1" fill="#b2dfdb"/>
<rect x="82.4" y="409" width="3.8" height="2.1" fill="#ff5252"/>
<rect x="87.7" y="409" width="3.8" height="1.8" fill="#ffcdd2"/>
<rect x="93" y="409" width="3.8" height="2.1" fill="#ff5252"/>
<rect x="98.3" y="409" width="3.8" height="1" fill="#ffcdd2"/>
<rect x="103.6" y="409" width="3.8" height="1" fill="#ffcdd2"/>
<rect x="108.9" y="409" width="3.8" height="1" fill="#26a69a"/>
<rect x="114.2" y="407.9" width="3.8" height="2.1" fill="#26a69a"/>
<rect x="119.5" y="407.9" width="3.8" height="2.1" fill="#26a69a"/>
<rect x="124.8" y="407.3" width="3.8" height="2.7" fill="#26a69a"/>
<rect x="130.1" y="408.2" width="3.8" height="1.8" fill="#b2dfdb"/>
<rect x="135.4" y="409" width="3.8" height="1" fill="#b2dfdb"/>
<rect x="140.7" y="409" width="3.8" height="1.1" fill="#ff5252"/>
<rect x="146" y="409" width="3.8" height="1.8" fill="#ff5252"/>
<rect x="151.3" y="409" width="3.8" height="2.7" fill="#ff5252"/>
<rect x="156.6" y="409" width="3.8" height="2.7" fill="#ff5252"/>
<rect x="161.9" y="409" width="3.8" height="2.7" fill="#ffcdd2"/>
<rect x="167.2" y="409" width="3.8" height="3" fill="#ff5252"/>
<rect x="172.5" y="409" width="3.8" height="3.9" fill="#ff5252"/>
<rect x="177.8" y="409" width="3.8" height="3.9" fill="#ff5252"/>
<rect x="183.1" y="409" width="3.8" height="3.9" fill="#ffcdd2"/>
<rect x="188.4" y="409" width="3.8" height="3" fill="#ffcdd2"/>
<rect x="193.7" y="409" width="3.8" height="2.7" fill="#ffcdd2"/>
<rect x="199" y="409" width="3.8" height="2.7" fill="#ff5252"/>
<rect x="204.3" y="409" width="3.8" height="1.8" fill="#ffcdd2"/>
<rect x="209.6" y="409" width="3.8" height="1.8" fill="#ffcdd2"/>
<rect x="214.9" y="409" width="3.8" height="1.8" fill="#ff5252"/>
<rect x="220.2" y="409" width="3.8" height="2.7" fill="#ff5252"/>
<rect x="225.5" y="409" width="3.8" height="2.7" fill="#ffcdd2"/>
<rect x="230.8" y="409" width="3.8" height="1.8" fill="#ffcdd2"/>
<rect x="236.1" y="409" width="3.8" height="1.1" fill="#ffcdd2"/>
<rect x="241.4" y="409" width="3.8" height="1" fill="#26a69a"/>
<rect x="246.7" y="407.9" width="3.8" height="2.1" fill="#26a69a"/>
<rect x="252" y="407" width="3.8" height="3" fill="#26a69a"/>
<rect x="257.3" y="405.6" width="3.8" height="4.4" fill="#26a69a"/>
<rect x="262.6" y="405.6" width="3.8" height="4.4" fill="#26a69a"/>
<rect x="267.9" y="406.3" width="3.8" height="3.7" fill="#b2dfdb"/>
<rect x="273.2" y="406.3" width="3.8" height="3.7" fill="#b2dfdb"/>
<rect x="278.5" y="405.6" width="3.8" height="4.4" fill="#26a69a"/>
<rect x="283.8" y="405.1" width="3.8" height="4.9" fill="#26a69a"/>
<rect x="289.1" y="405.1" width="3.8" height="4.9" fill="#26a69a"/>
<rect x="294.4" y="404.2" width="3.8" height="5.8" fill="#26a69a"/>
<rect x="299.7" y="405.1" width="3.8" height="4.9" fill="#b2dfdb"/>
<rect x="305" y="405.1" width="3.8" height="4.9" fill="#26a69a"/>
<rect x="310.3" y="404" width="3.8" height="6" fill="#26a69a"/>
<rect x="315.6" y="401.2" width="3.8" height="8.8" fill="#26a69a"/>
<rect x="320.9" y="401.2" width="3.8" height="8.8" fill="#26a69a"/>
<rect x="326.2" y="399.9" width="3.8" height="10.1" fill="#26a69a"/>
<rect x="331.5" y="399.9" width="3.8" height="10.1" fill="#26a69a"/>
<rect x="336.8" y="401.8" width="3.8" height="8.2" fill="#b2dfdb"/>
<rect x="342.1" y="403.2" width="3.8" height="6.8" fill="#b2dfdb"/>
<rect x="347.4" y="404.2" width="3.8" height="5.8" fill="#b2dfdb"/>
<rect x="352.7" y="406.3" width="3.8" height="3.7" fill="#b2dfdb"/>
<rect x="358" y="409" width="3.8" height="1" fill="#b2dfdb"/>
<rect x="363.3" y="409" width="3.8" height="1.3" fill="#ff5252"/>
<rect x="368.6" y="409" width="3.8" height="2.2" fill="#ff5252"/>
<rect x="373.9" y="409" width="3.8" height="2.7" fill="#ff5252"/>
<rect x="379.2" y="409" width="3.8" height="3.7" fill="#ff5252"/>
<rect x="384.5" y="409" width="3.8" height="3.7" fill="#ff5252"/>
<rect x="389.8" y="409" width="3.8" height="4.9" fill="#ff5252"/>
<rect x="395.1" y="409" width="3.8" height="4.6" fill="#ffcdd2"/>
<rect x="400.4" y="409" width="3.8" height="4.9" fill="#ff5252"/>
<rect x="405.7" y="409" width="3.8" height="4.9" fill="#ff5252"/>
<rect x="411" y="409" width="3.8" height="4.6" fill="#ffcdd2"/>
<rect x="416.3" y="409" width="3.8" height="4.3" fill="#ffcdd2"/>
<rect x="421.6" y="409" width="3.8" height="3.7" fill="#ffcdd2"/>
<rect x="426.9" y="409" width="3.8" height="2.4" fill="#ffcdd2"/>
<rect x="432.2" y="409" width="3.8" height="2.4" fill="#ffcdd2"/>
<rect x="437.5" y="409" width="3.8" height="2.7" fill="#ff5252"/>
<rect x="442.8" y="409" width="3.8" height="2.7" fill="#ff5252"/>
<rect x="448.1" y="409" width="3.8" height="4.3" fill="#ff5252"/>
<rect x="453.4" y="409" width="3.8" height="4.6" fill="#ff5252"/>
<rect x="458.7" y="409" width="3.8" height="4.6" fill="#ff5252"/>
<rect x="464" y="409" width="3.8" height="5.8" fill="#ff5252"/>
<rect x="469.3" y="409" width="3.8" height="4.3" fill="#ffcdd2"/>
<rect x="474.6" y="409" width="3.8" height="3.7" fill="#ffcdd2"/>
<rect x="479.9" y="409" width="3.8" height="3.7" fill="#ffcdd2"/>
<rect x="485.2" y="409" width="3.8" height="2.7" fill="#ffcdd2"/>
<rect x="490.5" y="409" width="3.8" height="2.7" fill="#ffcdd2"/>
<rect x="495.8" y="409" width="3.8" height="2.7" fill="#ffcdd2"/>
<rect x="501.1" y="409" width="3.8" height="2.7" fill="#ffcdd2"/>
<rect x="506.4" y="409" width="3.8" height="2.7" fill="#ff5252"/>
<rect x="511.7" y="409" width="3.8" height="4.6" fill="#ff5252"/>
<rect x="517" y="409" width="3.8" height="4.6" fill="#ff5252"/>
<rect x="522.3" y="409" width="3.8" height="4.3" fill="#ffcdd2"/>
<rect x="527.6" y="409" width="3.8" height="4.3" fill="#ffcdd2"/>
<rect x="532.9" y="409" width="3.8" height="2.7" fill="#ffcdd2"/>
<rect x="538.2" y="409" width="3.8" height="3.7" fill="#ff5252"/>
<rect x="543.5" y="409" width="3.8" height="3.7" fill="#ff5252"/>
<rect x="548.8" y="409" width="3.8" height="3.7" fill="#ffcdd2"/>
<rect x="554.1" y="409" width="3.8" height="3.7" fill="#ffcdd2"/>
<rect x="559.4" y="409" width="3.8" height="2.7" fill="#ffcdd2"/>
<rect x="564.7" y="409" width="3.8" height="2.7" fill="#ffcdd2"/>
<rect x="570" y="409" width="3.8" height="1.8" fill="#ffcdd2"/>
<rect x="575.3" y="408.2" width="3.8" height="1.8" fill="#26a69a"/>
<rect x="580.6" y="407.3" width="3.8" height="2.7" fill="#26a69a"/>
<rect x="585.9" y="406" width="3.8" height="4" fill="#26a69a"/>
<rect x="591.2" y="405.1" width="3.8" height="4.9" fill="#26a69a"/>
<rect x="596.5" y="404.1" width="3.8" height="5.9" fill="#26a69a"/>
<rect x="601.8" y="405.1" width="3.8" height="4.9" fill="#b2dfdb"/>
<rect x="607.1" y="404.9" width="3.8" height="5.1" fill="#26a69a"/>
<rect x="612.4" y="405.1" width="3.8" height="4.9" fill="#b2dfdb"/>
<rect x="617.7" y="406" width="3.8" height="4" fill="#b2dfdb"/>
<rect x="623" y="407.3" width="3.8" height="2.7" fill="#b2dfdb"/>
<rect x="628.3" y="407.5" width="3.8" height="2.5" fill="#b2dfdb"/>
<rect x="633.6" y="408.2" width="3.8" height="1.8" fill="#b2dfdb"/>
<rect x="638.9" y="409" width="3.8" height="1" fill="#b2dfdb"/>
<rect x="644.2" y="409" width="3.8" height="1" fill="#b2dfdb"/>
<rect x="649.5" y="409" width="3.8" height="1" fill="#ff5252"/>
<rect x="654.8" y="409" width="3.8" height="1" fill="#ff5252"/>
<rect x="660.1" y="409" width="3.8" height="1.8" fill="#ff5252"/>
<rect x="665.4" y="409" width="3.8" height="1.6" fill="#ffcdd2"/>
<rect x="670.7" y="409" width="3.8" height="4.6" fill="#ff5252"/>
<rect x="676" y="409" width="3.8" height="4.9" fill="#ff5252"/>
<rect x="681.3" y="409" width="3.8" height="7.7" fill="#ff5252"/>
<rect x="686.6" y="409" width="3.8" height="6" fill="#ffcdd2"/>
<rect x="691.9" y="409" width="3.8" height="5.8" fill="#ffcdd2"/>
<rect x="697.2" y="409" width="3.8" height="5.8" fill="#ffcdd2"/>
<rect x="702.5" y="409" width="3.8" height="4.9" fill="#ffcdd2"/>
<rect x="707.8" y="409" width="3.8" height="4.6" fill="#ffcdd2"/>
<rect x="713.1" y="409" width="3.8" height="3.9" fill="#ffcdd2"/>
<rect x="718.4" y="409" width="3.8" height="3.8" fill="#ffcdd2"/>
<rect x="723.7" y="409" width="3.8" height="3.9" fill="#ff5252"/>
<rect x="729" y="409" width="3.8" height="4.6" fill="#ff5252"/>
<rect x="734.3" y="409" width="3.8" height="5.1" fill="#ff5252"/>
<rect x="739.6" y="409" width="3.8" height="6" fill="#ff5252"/>
<rect x="744.9" y="409" width="3.8" height="5.6" fill="#ffcdd2"/>
<rect x="750.2" y="409" width="3.8" height="4.9" fill="#ffcdd2"/>
<rect x="755.5" y="409" width="3.8" height="4.3" fill="#ffcdd2"/>
<rect x="760.8" y="409" width="3.8" height="3.9" fill="#ffcdd2"/>
<rect x="766.1" y="409" width="3.8" height="3.9" fill="#ffcdd2"/>
<rect x="771.4" y="409" width="3.8" height="3.9" fill="#ffcdd2"/>
<rect x="776.7" y="409" width="3.8" height="3.8" fill="#ffcdd2"/>
<rect x="782" y="409" width="3.8" height="2.7" fill="#ffcdd2"/>
<rect x="787.3" y="409" width="3.8" height="1" fill="#26a69a"/>
<rect x="792.6" y="407.5" width="3.8" height="2.5" fill="#26a69a"/>
<rect x="797.9" y="407.3" width="3.8" height="2.7" fill="#26a69a"/>
<rect x="803.2" y="407.2" width="3.8" height="2.8" fill="#26a69a"/>
<rect x="808.5" y="406" width="3.8" height="4" fill="#26a69a"/>
<rect x="813.8" y="405.1" width="3.8" height="4.9" fill="#26a69a"/>
<rect x="819.1" y="404.1" width="3.8" height="5.9" fill="#26a69a"/>
<rect x="824.4" y="404.2" width="3.8" height="5.8" fill="#b2dfdb"/>
<rect x="829.7" y="405.4" width="3.8" height="4.6" fill="#b2dfdb"/>
<rect x="835" y="405.1" width="3.8" height="4.9" fill="#26a69a"/>
<rect x="840.3" y="404.6" width="3.8" height="5.4" fill="#b2dfdb"/>
<rect x="845.6" y="405.6" width="3.8" height="4.4" fill="#b2dfdb"/>
<rect x="850.9" y="406.3" width="3.8" height="3.7" fill="#b2dfdb"/>
<rect x="856.2" y="406.5" width="3.8" height="3.5" fill="#b2dfdb"/>
<rect x="861.5" y="407.3" width="3.8" height="2.7" fill="#b2dfdb"/>
<rect x="866.8" y="407.5" width="3.8" height="2.5" fill="#b2dfdb"/>
<rect x="872.1" y="408.2" width="3.8" height="1.8" fill="#b2dfdb"/>
<rect x="877.4" y="405.6" width="3.8" height="4.4" fill="#26a69a"/>
<rect x="882.7" y="405.4" width="3.8" height="4.6" fill="#26a69a"/>
<rect x="888" y="403.7" width="3.8" height="6.3" fill="#26a69a"/>
<rect x="893.3" y="403.2" width="3.8" height="6.8" fill="#26a69a"/>
<rect x="898.6" y="402.3" width="3.8" height="7.7" fill="#26a69a"/>
<rect x="903.9" y="403.7" width="3.8" height="6.3" fill="#b2dfdb"/>
<rect x="909.2" y="404.1" width="3.8" height="5.9" fill="#b2dfdb"/>
<rect x="914.5" y="404.2" width="3.8" height="5.8" fill="#b2dfdb"/>
<rect x="919.8" y="403.2" width="3.8" height="6.8" fill="#26a69a"/>
<rect x="925.1" y="404.1" width="3.8" height="5.9" fill="#b2dfdb"/>
<rect x="930.4" y="407.5" width="3.8" height="2.5" fill="#b2dfdb"/>
<rect x="935.7" y="408" width="3.8" height="2" fill="#b2dfdb"/>
<rect x="941" y="408.2" width="3.8" height="1.8" fill="#b2dfdb"/>
<rect x="946.3" y="409" width="3.8" height="1" fill="#b2dfdb"/>
<rect x="951.6" y="409" width="3.8" height="1" fill="#ff5252"/>
<rect x="956.9" y="409" width="3.8" height="1" fill="#26a69a"/>
<rect x="962.2" y="408" width="3.8" height="2" fill="#26a69a"/>
<rect x="967.5" y="408.2" width="3.8" height="1.8" fill="#b2dfdb"/>
<rect x="972.8" y="408.4" width="3.8" height="1.6" fill="#b2dfdb"/>
<rect x="978.1" y="409" width="3.8" height="1" fill="#b2dfdb"/>
<rect x="983.4" y="409" width="3.8" height="1.8" fill="#ff5252"/>
<rect x="988.7" y="409" width="3.8" height="2.7" fill="#ff5252"/>
<rect x="994" y="409" width="3.8" height="3.9" fill="#ff5252"/>
<rect x="999.3" y="409" width="3.8" height="8.5" fill="#ff5252"/>
<rect x="1004.6" y="409" width="3.8" height="13.7" fill="#ff5252"/>
<rect x="1009.9" y="409" width="3.8" height="16.7" fill="#ff5252"/>
<rect x="1015.2" y="409" width="3.8" height="17.7" fill="#ff5252"/>
<rect x="1020.5" y="409" width="3.8" height="16.5" fill="#ffcdd2"/>
<rect x="1025.8" y="409" width="3.8" height="14.2" fill="#ffcdd2"/>
<rect x="1031.1" y="409" width="3.8" height="11.6" fill="#ffcdd2"/>
<rect x="1036.4" y="409" width="3.8" height="10.4" fill="#ffcdd2"/>
<rect x="1041.7" y="409" width="3.8" height="7.6" fill="#ffcdd2"/>
<rect x="1047" y="409" width="3.8" height="5.7" fill="#ffcdd2"/>
<rect x="1052.3" y="409" width="3.8" height="5.9" fill="#ff5252"/>
<rect x="1057.6" y="409" width="3.8" height="3.5" fill="#ffcdd2"/>
<rect x="1062.9" y="409" width="3.8" height="2.4" fill="#ffcdd2"/>
<rect x="1068.2" y="409" width="3.8" height="1.6" fill="#ffcdd2"/>
<rect x="1073.5" y="409" width="3.8" height="4.4" fill="#ff5252"/>
<rect x="1078.8" y="409" width="3.8" height="6.6" fill="#ff5252"/>
<rect x="1084.1" y="409" width="3.8" height="5.9" fill="#ffcdd2"/>
<rect x="1089.4" y="409" width="3.8" height="7.6" fill="#ff5252"/>
<rect x="1094.7" y="409" width="3.8" height="8.5" fill="#ff5252"/>
<rect x="1100" y="409" width="3.8" height="11.6" fill="#ff5252"/>
<rect x="1105.3" y="409" width="3.8" height="12.6" fill="#ff5252"/>
<rect x="1110.6" y="409" width="3.8" height="10.9" fill="#ffcdd2"/>
<rect x="1115.9" y="409" width="3.8" height="10.4" fill="#ffcdd2"/>
<rect x="1121.2" y="409" width="3.8" height="11.6" fill="#ff5252"/>
<rect x="1126.5" y="409" width="3.8" height="8.2" fill="#ffcdd2"/>
<rect x="1131.8" y="409" width="3.8" height="7.4" fill="#ffcdd2"/>
<rect x="1137.1" y="409" width="3.8" height="4.5" fill="#ffcdd2"/>
<rect x="1142.4" y="409" width="3.8" height="1.2" fill="#ffcdd2"/>
<rect x="1147.7" y="407.5" width="3.8" height="2.5" fill="#26a69a"/>
<rect x="1153" y="406.9" width="3.8" height="3.1" fill="#26a69a"/>
<rect x="1158.3" y="406.8" width="3.8" height="3.2" fill="#26a69a"/>
<rect x="1163.6" y="405.7" width="3.8" height="4.3" fill="#26a69a"/>
<rect x="1168.9" y="403.9" width="3.8" height="6.1" fill="#26a69a"/>
<rect x="1174.2" y="401.9" width="3.8" height="8.1" fill="#26a69a"/>
<rect x="1179.5" y="401.6" width="3.8" height="8.4" fill="#26a69a"/>
<rect x="1184.8" y="400" width="3.8" height="10" fill="#26a69a"/>
<rect x="1190.1" y="399.9" width="3.8" height="10.1" fill="#26a69a"/>
<rect x="1195.4" y="400" width="3.8" height="10" fill="#b2dfdb"/>
<rect x="1200.7" y="400.1" width="3.8" height="9.9" fill="#b2dfdb"/>
<rect x="1206" y="401" width="3.8" height="9" fill="#b2dfdb"/>
<rect x="1211.3" y="401.1" width="3.8" height="8.9" fill="#b2dfdb"/>
<rect x="1216.6" y="400" width="3.8" height="10" fill="#26a69a"/>
<rect x="1221.9" y="400.1" width="3.8" height="9.9" fill="#b2dfdb"/>
<rect x="1227.2" y="401" width="3.8" height="9" fill="#b2dfdb"/>
<rect x="1232.5" y="402.1" width="3.8" height="7.9" fill="#b2dfdb"/>
<rect x="1237.8" y="403.9" width="3.8" height="6.1" fill="#b2dfdb"/>
<rect x="1243.1" y="406.9" width="3.8" height="3.1" fill="#b2dfdb"/>
<rect x="1248.4" y="407.5" width="3.8" height="2.5" fill="#b2dfdb"/>
<rect x="1253.7" y="409" width="3.8" height="1" fill="#b2dfdb"/>
<rect x="1259" y="409" width="3.8" height="1.7" fill="#ff5252"/>
<rect x="1264.3" y="409" width="3.8" height="2.4" fill="#ff5252"/>
<rect x="1269.6" y="409" width="3.8" height="2.6" fill="#ff5252"/>
<rect x="1274.9" y="409" width="3.8" height="2.6" fill="#ff5252"/>
<rect x="1280.2" y="409" width="3.8" height="2.1" fill="#ffcdd2"/>
<rect x="1285.5" y="409" width="3.8" height="1.7" fill="#ffcdd2"/>
<rect x="1290.8" y="409" width="3.8" height="1" fill="#26a69a"/>
<path d="M0 406.5 C3.1 406.1 13.4 405.3 18.9 404 C24.4 402.7 28 400.4 32.8 398.9 C37.6 397.4 42.9 395.5 47.9 395.1 C52.9 394.7 55.2 395.6 63 396.4 C70.8 397.2 84.1 400 94.6 399.9 C105.1 399.8 118.8 396.4 126.1 395.8 C133.4 395.2 132.4 395.6 138.7 396.4 C145 397.2 156.8 399.5 164 400.8 C171.2 402.1 174.4 403.6 181.6 404.1 C188.8 404.7 199.3 403.9 206.9 404.1 C214.5 404.3 220.3 405.6 227 405.4 C233.7 405.2 240.9 404.2 247.2 402.9 C253.5 401.6 257.8 399.5 264.9 397.8 C272 396.1 281.7 395.1 290.1 392.8 C298.5 390.5 306.9 387.4 315.3 384 C323.7 380.6 334.8 374.4 340.6 372.6 C346.4 370.8 346.4 372.2 350.1 373.1 C353.8 374 356.8 376.7 362.7 378.2 C368.6 379.7 380.3 381 385.4 382.2 C390.4 383.4 387.1 384.1 393 385.2 C398.9 386.3 414.8 388.5 420.7 389 C426.6 389.5 424.9 388.3 428.3 388.3 C431.7 388.3 437.1 388.2 440.9 389 C444.7 389.8 446.8 391.4 451 392.8 C455.2 394.2 459.4 396.4 466.1 397.1 C472.8 397.9 484.7 397.1 491.4 397.3 C498.1 397.5 502.3 397.5 506.5 398.3 C510.7 399.1 510.7 401.3 516.6 402.4 C522.5 403.5 533.4 404.2 541.8 404.9 C550.2 405.6 560.3 407.2 567 406.7 C573.7 406.1 577.2 403.3 582.2 401.6 C587.2 399.9 592.7 397.9 597.3 396.6 C601.9 395.4 604.4 394.6 609.9 394.1 C615.4 393.6 622.5 393.4 630.1 393.6 C637.7 393.8 649 394.7 655.3 395.3 C661.6 395.9 663.4 395.5 668 397.3 C672.6 399.1 678.9 404.3 683.1 405.9 C687.3 407.5 689.5 406.3 693.2 406.7 C696.9 407.1 700.2 408 705.2 408.4 C710.2 408.8 717 407.9 722.9 409.2 C728.8 410.5 735 414.4 740.5 416 C746 417.6 751.5 417.8 755.7 418.5 C759.9 419.2 761.6 419.8 765.8 420 C770 420.2 775.9 420.8 780.9 420 C785.9 419.2 790.1 416.6 796 415 C801.9 413.4 808.6 412.5 816.2 410.5 C823.8 408.5 832.2 404.4 841.5 402.9 C850.8 401.4 864.1 402.5 871.7 401.6 C879.3 400.8 882.7 399.3 886.9 397.8 C891.1 396.3 893.5 394.1 896.9 392.8 C900.2 391.6 903.2 391.2 907 390.3 C910.8 389.4 917 388.6 919.7 387.7 C922.4 386.8 921.7 385.4 923.4 385.2 C925.1 385 927.8 386 929.7 386.5 C931.6 387 931 387.9 934.8 388.3 C938.6 388.7 946.9 389.2 952.4 389 C957.9 388.8 962.5 387.3 967.6 387.2 C972.7 387.1 978.1 387.4 982.7 388.3 C987.3 389.2 991.5 389.7 995.3 392.3 C999.1 394.9 1002 399.8 1005.4 404.1 C1008.8 408.4 1011.8 414.8 1015.5 418 C1019.2 421.2 1023.5 422.4 1027.6 423.6 C1031.7 424.8 1036.6 425.3 1040.2 425.1 C1043.8 424.9 1046.5 422.7 1049 422.6 C1051.5 422.5 1052.6 424.4 1055.3 424.3 C1058 424.2 1062.9 422.2 1065.4 421.8 C1067.9 421.4 1067.5 420.5 1070.5 421.8 C1073.5 423.1 1078.9 427.1 1083.1 429.4 C1087.3 431.7 1091.9 432.9 1095.7 435.7 C1099.5 438.5 1102.4 444.2 1105.8 446.3 C1109.2 448.4 1113 447.3 1115.9 448.3 C1118.8 449.3 1120.9 451.8 1123.4 452.1 C1125.9 452.4 1128 450.9 1131 450.3 C1134 449.7 1137.7 449.5 1141.1 448.3 C1144.5 447.1 1147.8 444.5 1151.2 443.2 C1154.6 441.9 1157.9 441.8 1161.3 440.7 C1164.7 439.6 1167.2 439.3 1171.4 436.9 C1175.6 434.5 1181.5 429 1186.5 426.1 C1191.5 423.2 1195.7 421.8 1201.6 419.3 C1207.5 416.8 1216.8 412.8 1221.8 411 C1226.8 409.2 1229.4 408.8 1231.9 408.4 C1234.4 408 1234.8 407.8 1236.9 408.4 C1239 408.9 1241.1 410.8 1244.5 411.7 C1247.9 412.6 1252.5 412.9 1257.1 413.5 C1261.7 414.1 1268.1 414.4 1272.3 415 C1276.5 415.6 1278.8 416.8 1282.4 416.8 C1286 416.8 1291.8 415.3 1293.7 415" fill="none" stroke="#2196f3" stroke-width="1.7" stroke-linejoin="round"/>
<path d="M0 413.4 C2.1 412.8 8.4 410.7 12.6 409.6 C16.8 408.5 19.3 408.3 25.2 406.7 C31.1 405.1 41.6 401.6 47.9 400.2 C54.2 398.8 55.2 398.5 63 398.3 C70.8 398.1 84.1 399 94.6 398.9 C105.1 398.8 114.5 397.7 126.1 397.7 C137.7 397.7 155 398.3 164 398.7 C173 399.1 175.8 399.5 180 400.2 C184.2 400.9 181.4 402.2 189.2 402.9 C197 403.5 218.2 403.8 227 404.1 C235.8 404.4 233.8 405.5 242.2 404.9 C250.6 404.3 267.4 402.4 277.5 400.4 C287.6 398.4 294.3 395.5 302.7 392.8 C311.1 390.1 320.4 386.5 328 384 C335.6 381.5 343.2 378.8 348.1 377.7 C353.1 376.6 352.3 377 357.7 377.2 C363.1 377.4 370.7 377.6 380.4 378.9 C390.1 380.2 404.8 383.6 415.7 385.2 C426.6 386.8 436.8 386.9 446 388.3 C455.2 389.7 461.1 391.8 471.2 393.3 C481.3 394.8 496.4 395.9 506.5 397.3 C516.6 398.7 521.2 400.2 531.7 401.6 C542.2 403 559.5 405.3 569.6 405.4 C579.7 405.5 584.3 403.8 592.3 402.4 C600.3 401 609.1 398.5 617.5 397.3 C625.9 396.1 634.3 395.4 642.7 395.3 C651.1 395.2 660.9 395.7 668 396.6 C675.1 397.5 681.1 399.9 685.6 400.9 C690.1 401.9 687.6 401.2 695.1 402.4 C702.6 403.6 720.4 405.9 730.5 407.9 C740.6 409.9 746.5 412.4 755.7 414.2 C765 416 775.9 418.7 786 418.5 C796.1 418.3 805.3 415.2 816.2 413 C827.1 410.8 840.6 407.3 851.5 405.4 C862.4 403.5 872.5 403.4 881.8 401.6 C891 399.8 899.4 396.7 907 394.8 C914.6 392.9 918.8 391.3 927.2 390.3 C935.6 389.3 948.2 389.4 957.5 389 C966.8 388.6 976 387.6 982.7 387.7 C989.4 387.8 992 387.3 997.9 389.8 C1003.8 392.3 1012.2 399 1018 402.9 C1023.8 406.8 1027.2 410.3 1032.6 413 C1038 415.7 1044 418 1050.3 419.3 C1056.6 420.6 1063.8 419.9 1070.5 421 C1077.2 422.1 1084.3 423.9 1090.6 426.1 C1096.9 428.3 1102 431.5 1108.3 434.4 C1114.6 437.2 1122.2 441.3 1128.5 443.2 C1134.8 445.1 1138.9 446 1146.1 445.8 C1153.2 445.6 1163 444.1 1171.4 442 C1179.8 439.9 1188.2 436.8 1196.6 433.2 C1205 429.6 1214.2 423.8 1221.8 420.5 C1229.4 417.2 1236.1 414.8 1242 413.5 C1247.9 412.2 1252 412.9 1257.1 413 C1262.1 413.1 1266.2 413.9 1272.3 414.2 C1278.4 414.5 1290.1 414.9 1293.7 415" fill="none" stroke="#ff6d00" stroke-width="1.7" stroke-linejoin="round"/>
</g>
<g clip-path="url(#crsi)">
<rect x="0" y="492.8" width="1342.8" height="43.8" fill="#f2eef9"/>
<line x1="-6.19" y1="492.8" x2="1343" y2="492.8" stroke="#787b86" stroke-width="1.9" stroke-dasharray="6.5 8.19"/>
<line x1="-6.19" y1="514.6" x2="1343" y2="514.6" stroke="#787b86" stroke-width="1.9" stroke-dasharray="6.5 8.19"/>
<line x1="-6.19" y1="536.6" x2="1343" y2="536.6" stroke="#787b86" stroke-width="1.9" stroke-dasharray="6.5 8.19"/>
<path d="M0 504.1 L10.1 505.4 L15.1 508.4 L20.2 506.7 L30.3 494.8 L44.1 492.3 L50.5 500.4 L58 507.9 L63.1 503.4 L70.6 504.9 L76.9 504.9 L84.5 512.2 L89.6 505.9 L94.6 506.7 L99.6 500.9 L108.5 501.6 L116 495.3 L126.1 492.8 L131.2 500.9 L136.2 502.4 L143.8 508.4 L152.6 505.4 L157.7 510 L162.7 504.1 L167.8 515 L176.6 515 L180.4 512.5 L185.4 513 L190.5 506.7 L195.5 505.9 L201.8 512.5 L206.4 505.9 L214.4 511 L220.7 516.8 L227 511 L235.9 506.7 L243.4 506.7 L248.5 497.8 L258.6 492.8 L264.9 496.6 L272.4 494.8 L278.8 489 L285.1 488.3 L292.6 484.5 L305.2 482.2 L317.4 471.9 L322.9 479.7 L332.5 477.2 L338 480.7 L350.1 484 L360.2 496.6 L366.5 493.3 L374.8 490.8 L381.6 496.6 L386.7 492.8 L391.7 506.2 L396 498.3 L401.8 502.9 L408.1 502.9 L413.2 501.6 L418.2 497.8 L423.2 497.8 L427.8 492.3 L433.3 498.6 L439.6 499.1 L444.7 504.1 L449.7 512.5 L454.8 507.2 L460.6 510.5 L466.1 511.2 L471.2 504.1 L476.2 504.1 L481.8 505.9 L486.3 504.7 L496.4 505.4 L502.7 504.9 L507.8 508.4 L512.8 521.8 L519.1 513.5 L525.4 509.2 L529.7 513 L534.8 508.4 L539.3 514.2 L544.3 516.8 L549.4 513.5 L556.9 515 L565.8 513 L577.1 498.6 L584.7 498.6 L588.5 499.6 L593.5 492.3 L602.9 496.6 L608.7 493.6 L620 498.3 L630.1 497.8 L645.2 497.8 L656.6 494.8 L661.6 500.9 L666.7 497.3 L673 525.1 L678 517.5 L683.1 527.6 L687.6 515 L693.1 513.5 L699.7 518.5 L704.7 515.5 L714.1 514.2 L719.1 516 L731.7 526.9 L736.8 526.1 L741.8 530.1 L746.9 527.6 L758.2 527.6 L763.2 530.6 L768.3 521.8 L773.8 526.9 L778.4 526.9 L783.4 520 L794.8 509.2 L801.1 514.2 L806.1 514.2 L809.9 511.7 L816.2 505.4 L821.3 502.9 L826.3 506.7 L831.4 505.9 L837.7 502.1 L846.5 501.6 L852.8 507.9 L859.1 506.7 L863.7 506.7 L867.9 504.7 L873 507.2 L879.8 491.5 L884.8 496.6 L889.9 488.5 L894.4 492.3 L900 490.8 L907 494.8 L912.1 494.8 L917.1 491.5 L921.7 484.7 L931 511 L938.6 503.4 L943.6 502.4 L948.7 505.4 L953.7 504.1 L965.1 496.6 L970.1 500.4 L980.2 502.4 L985.2 506.7 L989.8 504.1 L996.6 513 L1001.6 528.6 L1011 536.9 L1018 531.9 L1032.6 521.8 L1038.2 524.8 L1047.7 518.5 L1054.8 525.6 L1060.4 518.5 L1066.7 518.5 L1070.5 520.5 L1075.5 529.4 L1081 534.4 L1086.1 525.6 L1091.9 530.6 L1096.2 532.7 L1100.7 536.4 L1106.3 538.7 L1113.8 530.1 L1118.4 531.9 L1123.4 536.9 L1128.5 526.9 L1138.6 526.9 L1144.9 521.8 L1160 526.9 L1165.1 521.8 L1171.4 520.5 L1176.4 516.8 L1181.5 518 L1186.5 513.7 L1196.6 515.5 L1204.2 514.2 L1209.2 514.2 L1214.2 511.2 L1218 507.4 L1223.1 508.4 L1229.9 507.4 L1237 514.2 L1242 518.5 L1245 522.6 L1250.1 518.5 L1257.1 521.8 L1262.2 521.8 L1267.2 523.1 L1272.3 521 L1276.8 523.8 L1283.6 520 L1288.7 517.5 L1293.7 515.5" fill="none" stroke="#7e57c2" stroke-width="2" stroke-linejoin="round"/>
</g>
<text x="8.4" y="26.6" font-size="20" fill="#434651" textLength="380.6" lengthAdjust="spacingAndGlyphs">Silver US Dollars per Ounce Spot Prices, 1h</text>
<text x="402.5" y="26.6" font-size="20" fill="#434651" textLength="13.3" lengthAdjust="spacingAndGlyphs">O</text>
<text x="415.8" y="26.6" font-size="20" fill="#2e7f52" textLength="47.2" lengthAdjust="spacingAndGlyphs">84.01</text>
<text x="478.2" y="26.6" font-size="20" fill="#434651" textLength="13.3" lengthAdjust="spacingAndGlyphs">H</text>
<text x="491.5" y="26.6" font-size="20" fill="#2e7f52" textLength="47.3" lengthAdjust="spacingAndGlyphs">84.35</text>
<text x="553" y="26.6" font-size="20" fill="#434651" textLength="9.4" lengthAdjust="spacingAndGlyphs">L</text>
<text x="562.4" y="26.6" font-size="20" fill="#2e7f52" textLength="46.4" lengthAdjust="spacingAndGlyphs">83.91</text>
<text x="623.3" y="26.6" font-size="20" fill="#434651" textLength="11.7" lengthAdjust="spacingAndGlyphs">C</text>
<text x="635" y="26.6" font-size="20" fill="#2e7f52" textLength="48.2" lengthAdjust="spacingAndGlyphs">84.23</text>
<text x="696.4" y="26.6" font-size="20" fill="#2e7f52" textLength="37.2" lengthAdjust="spacingAndGlyphs">0.21</text>
<text x="742.2" y="26.6" font-size="20" fill="#2e7f52" textLength="74.1" lengthAdjust="spacingAndGlyphs">(+0.26%)</text>
<text x="8.1" y="54.7" font-size="20" fill="#434651" textLength="159.7" lengthAdjust="spacingAndGlyphs">MA (100, close, 0)</text>
<text x="181.6" y="54.7" font-size="20" fill="#ff9800" textLength="48" lengthAdjust="spacingAndGlyphs">88.08</text>
<text x="8.1" y="394.7" font-size="20" fill="#434651" textLength="207.9" lengthAdjust="spacingAndGlyphs">MACD (12, 26, close, 9)</text>
<text x="229" y="394.7" font-size="20" fill="#22ab94" textLength="36.5" lengthAdjust="spacingAndGlyphs">0.01</text>
<text x="280.5" y="394.7" font-size="20" fill="#2196f3" textLength="45.5" lengthAdjust="spacingAndGlyphs">-0.34</text>
<text x="339" y="394.7" font-size="20" fill="#ff6d00" textLength="45.5" lengthAdjust="spacingAndGlyphs">-0.35</text>
<text x="8.8" y="495.3" font-size="20" fill="#434651" textLength="66.7" lengthAdjust="spacingAndGlyphs">RSI (14)</text>
<text x="89.6" y="495.3" font-size="20" fill="#7e57c2" textLength="46.6" lengthAdjust="spacingAndGlyphs">49.06</text>
<text x="1357" y="47.300000000000004" font-size="20" fill="#434651" textLength="48.7" lengthAdjust="spacingAndGlyphs">96.00</text>
<text x="1357" y="103.3" font-size="20" fill="#434651" textLength="48.7" lengthAdjust="spacingAndGlyphs">92.00</text>
<text x="1357" y="271.3" font-size="20" fill="#434651" textLength="48.7" lengthAdjust="spacingAndGlyphs">80.00</text>
<text x="1357" y="327.3" font-size="20" fill="#434651" textLength="48.7" lengthAdjust="spacingAndGlyphs">76.00</text>
<path d="M1343.2 137.2 H1410.9 Q1414.9 137.2 1414.9 141.2 V161.8 Q1414.9 165.8 1410.9 165.8 H1343.2 Z" fill="#ff9800"/>
<text x="1357.3" y="158.1" font-size="20" fill="#131722" textLength="47.7" lengthAdjust="spacingAndGlyphs" stroke="#131722" stroke-width="0.35">88.08</text>
<path d="M1343.2 191 H1410.9 Q1414.9 191 1414.9 195 V215.5 Q1414.9 219.5 1410.9 219.5 H1343.2 Z" fill="#2e7f52"/>
<text x="1357.3" y="211.8" font-size="20" fill="#fff" textLength="47.7" lengthAdjust="spacingAndGlyphs" stroke="#fff" stroke-width="0.35">84.23</text>
<g clip-path="url(#cmacd)">
<path d="M1343.2 394.3 H1401.2 Q1405.2 394.3 1405.2 398.3 V418.5 Q1405.2 422.5 1401.2 422.5 H1343.2 Z" fill="#22ab94"/>
<text x="1356.8" y="415.7" font-size="20" fill="#fff" textLength="36.2" lengthAdjust="spacingAndGlyphs" stroke="#fff" stroke-width="0.35">0.01</text>
<path d="M1343.2 451.1 H1407.6 Q1411.6 451.1 1411.6 455.1 V474 Q1411.6 478 1407.6 478 H1343.2 Z" fill="#ff6d00"/>
<text x="1357.9" y="471.5" font-size="20" fill="#fff" textLength="44.6" lengthAdjust="spacingAndGlyphs" stroke="#fff" stroke-width="0.35">-0.35</text>
<path d="M1343.2 423.2 H1407.6 Q1411.6 423.2 1411.6 427.2 V446.9 Q1411.6 450.9 1407.6 450.9 H1343.2 Z" fill="#2196f3"/>
<text x="1357.9" y="445" font-size="20" fill="#fff" textLength="44.6" lengthAdjust="spacingAndGlyphs" stroke="#fff" stroke-width="0.35">-0.34</text>
</g>
<path d="M1343.2 501.8 H1410.9 Q1414.9 501.8 1414.9 505.8 V526.8 Q1414.9 530.8 1410.9 530.8 H1343.2 Z" fill="#7e57c2"/>
<text x="1357.3" y="523.3" font-size="20" fill="#fff" textLength="47.7" lengthAdjust="spacingAndGlyphs" stroke="#fff" stroke-width="0.35">49.06</text>
<text x="195.8" y="578.3" font-size="20" fill="#434651" textLength="20.4" lengthAdjust="spacingAndGlyphs">20</text>
<text x="434.4" y="578.3" font-size="20" fill="#434651" textLength="19.9" lengthAdjust="spacingAndGlyphs">24</text>
<text x="678.4" y="578.3" font-size="20" fill="#434651" textLength="20" lengthAdjust="spacingAndGlyphs">26</text>
<text x="904.8" y="578.3" font-size="20" fill="#434651" textLength="32.8" lengthAdjust="spacingAndGlyphs" font-weight="bold">Mar</text>
<text x="1166" y="578.3" font-size="20" fill="#434651" textLength="10.1" lengthAdjust="spacingAndGlyphs">4</text>
</svg></body></html>
